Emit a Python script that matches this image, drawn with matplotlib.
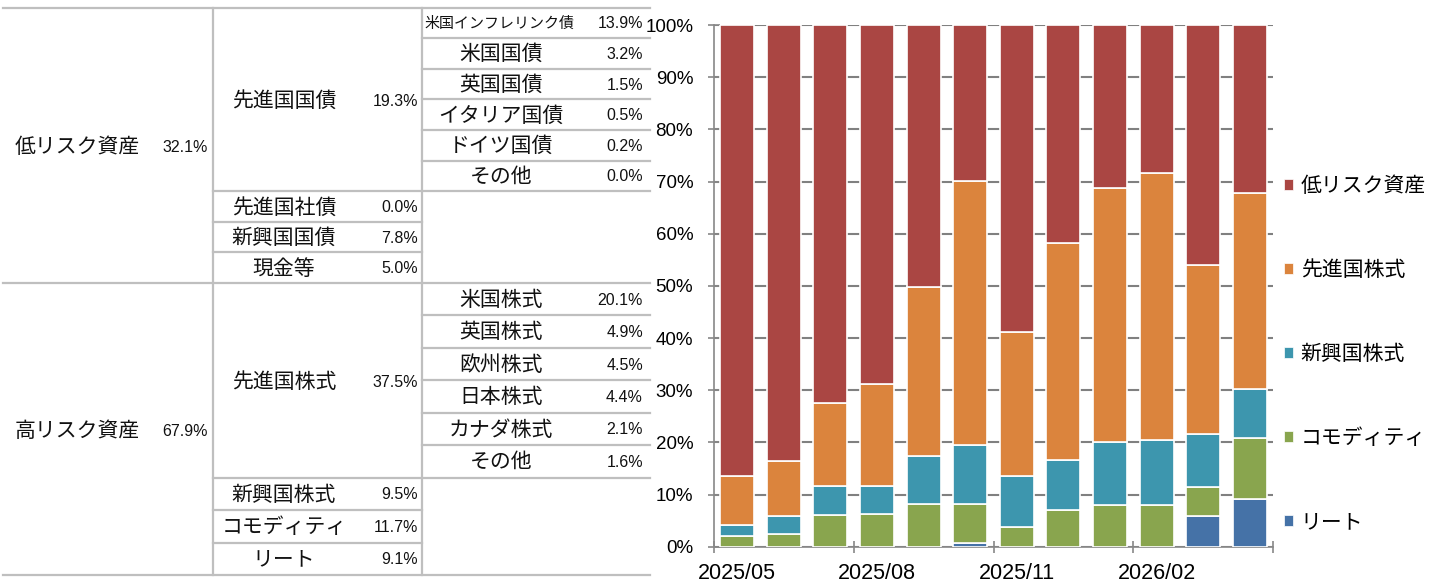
import matplotlib
matplotlib.use("Agg")
import matplotlib.pyplot as plt
from matplotlib.lines import Line2D
from matplotlib.patches import Patch
from matplotlib.ticker import FixedLocator, FuncFormatter

plt.rcParams['font.family'] = ['Liberation Sans', 'Noto Sans CJK JP', 'DejaVu Sans']

# ---------------- data ----------------
months = ['2025/05', '2025/06', '2025/07', '2025/08', '2025/09', '2025/10',
          '2025/11', '2025/12', '2026/01', '2026/02', '2026/03', '2026/04']
series_names = ['リート', 'コモディティ', '新興国株式', '先進国株式', '低リスク資産']
reit      = [0.0, 0.0, 0.0, 0.0, 0.0, 0.7, 0.0, 0.0, 0.0, 0.0, 5.9, 9.1]
commodity = [2.0, 2.4, 6.1, 6.2, 8.2, 7.4, 3.8, 7.0, 8.0, 8.0, 5.6, 11.7]
em_equity = [2.1, 3.5, 5.5, 5.4, 9.1, 11.4, 9.8, 9.6, 12.1, 12.5, 10.1, 9.5]
dm_equity = [9.5, 10.6, 15.9, 19.5, 32.5, 50.6, 27.6, 41.6, 48.7, 51.1, 32.4, 37.5]
low_risk  = [86.4, 83.5, 72.5, 68.9, 50.2, 29.9, 58.8, 41.8, 31.2, 28.4, 46.0, 32.2]
series_colors = ['#4572A7', '#89A54E', '#3D96AE', '#DB843D', '#AA4643']

group_labels = ['低リスク資産', '高リスク資産']
group_values = [32.1, 67.9]
low_labels = ['先進国国債', '先進国社債', '新興国国債', '現金等']
low_values = [19.3, 0.0, 7.8, 5.0]
dm_bond_labels = ['米国インフレリンク債', '米国国債', '英国国債', 'イタリア国債', 'ドイツ国債', 'その他']
dm_bond_values = [13.9, 3.2, 1.5, 0.5, 0.2, 0.0]
high_labels = ['先進国株式', '新興国株式', 'コモディティ', 'リート']
high_values = [37.5, 9.5, 11.7, 9.1]
dm_eq_labels = ['米国株式', '英国株式', '欧州株式', '日本株式', 'カナダ株式', 'その他']
dm_eq_values = [20.1, 4.9, 4.5, 4.4, 2.1, 1.6]

# ---------------- figure ----------------
W, H = 1434, 583
fig = plt.figure(figsize=(W / 100, H / 100), dpi=100)

def fx(x):
    return x / W

def fy(y):
    return 1 - y / H

LINE_C = '#BFBFBF'
LW = 1.6

def hline(x0, x1, y):
    fig.add_artist(Line2D([fx(x0), fx(x1)], [fy(y), fy(y)], color=LINE_C, lw=LW,
                          transform=fig.transFigure))

def vline(x, y0, y1):
    fig.add_artist(Line2D([fx(x), fx(x)], [fy(y0), fy(y1)], color=LINE_C, lw=LW,
                          transform=fig.transFigure))

def txt(x, y, s, ha='center', size=15):
    fig.text(fx(x), fy(y), s, ha=ha, va='center', fontsize=size, color='#111111')

# ---------------- table ----------------
X0, XC1, XC2, X3 = 3, 213, 422, 650
sections = [(7.5, 283), (283, 575)]
table_parts = [
    (low_labels, low_values, dm_bond_labels, dm_bond_values),
    (high_labels, high_values, dm_eq_labels, dm_eq_values),
]
hline(X0, X3, sections[0][0])
for si, ((top, bot), (l2, v2, l3, v3)) in enumerate(zip(sections, table_parts)):
    hline(X0, X3, bot)
    rh = (bot - top) / 9.0
    # group label
    mid = (top + bot) / 2 + 2
    txt(15, mid, group_labels[si], ha='left')
    txt(208, mid, f'{group_values[si]:.1f}%', ha='right', size=11.5)
    # col 2: first item spans 6 rows
    first_mid = top + 3 * rh + 2
    txt(284, first_mid, l2[0])
    txt(418, first_mid, f'{v2[0]:.1f}%', ha='right', size=11.5)
    for k in range(1, 4):
        ry = top + (5 + k) * rh
        hline(XC1, XC2 if k > 1 else X3, ry)
        txt(284, ry + rh / 2 + 1, l2[k])
        txt(418, ry + rh / 2 + 1, f'{v2[k]:.1f}%', ha='right', size=11.5)
    # col 3
    for k in range(6):
        ry = top + k * rh
        if k > 0:
            hline(XC2, X3, ry)
        size = 10.8 if len(l3[k]) > 7 else 15
        cx = 499 if len(l3[k]) > 7 else 501
        txt(cx, ry + rh / 2 + 1, l3[k], size=size)
        txt(643, ry + rh / 2 + 1, f'{v3[k]:.1f}%', ha='right', size=11.5)
vline(XC1, 7.5, 575)
vline(XC2, 7.5, 575)

# ---------------- chart ----------------
ax = fig.add_axes([fx(714), fy(546.7), fx(1273) - fx(714), fy(25) - fy(546.7)])
x = list(range(len(months)))
bottom = [0.0] * len(months)
data = [reit, commodity, em_equity, dm_equity, low_risk]
handles = []
for name, vals, col in zip(series_names, data, series_colors):
    ax.bar(x, vals, bottom=bottom, width=0.73, color=col, edgecolor='white',
           linewidth=1.2, zorder=3, label=name)
    bottom = [b + v for b, v in zip(bottom, vals)]
    handles.append(Patch(facecolor=col, edgecolor='white', linewidth=0.5, label=name))

ax.set_xlim(-0.5, len(months) - 0.5)
ax.set_ylim(0, 100)
ax.set_yticks(range(0, 101, 10))
ax.yaxis.set_major_formatter(FuncFormatter(lambda v, p: f'{v:.0f}%'))
ax.grid(axis='y', color='#808080', lw=1.5, zorder=0)
ax.set_axisbelow(True)

ax.xaxis.set_major_locator(FixedLocator([i - 0.5 for i in range(0, len(months) + 1, 3)]))
ax.xaxis.set_major_formatter(FuncFormatter(lambda v, p: ''))
ax.xaxis.set_minor_locator(FixedLocator(x[::3]))
ax.set_xticklabels([months[i] for i in x[::3]], minor=True)
ax.tick_params(axis='x', which='major', direction='inout', length=9, width=1.2, color='#888888')
ax.tick_params(axis='x', which='minor', length=0, pad=12, labelsize=15.5)
ax.tick_params(axis='y', direction='inout', length=8, width=1.2, color='#888888',
               pad=11, labelsize=13.5)

for s in ['top', 'right']:
    ax.spines[s].set_visible(False)
for s in ['left', 'bottom']:
    ax.spines[s].set_color('#888888')
    ax.spines[s].set_linewidth(1.2)

fig.legend(handles=handles[::-1], loc='center left', bbox_to_anchor=(fx(1284), fy(354)),
           frameon=False, fontsize=15, labelspacing=3.1, handlelength=0.45,
           handleheight=0.45, handletextpad=0.35, borderpad=0, borderaxespad=0)

fig.savefig('out.png', dpi=100)
